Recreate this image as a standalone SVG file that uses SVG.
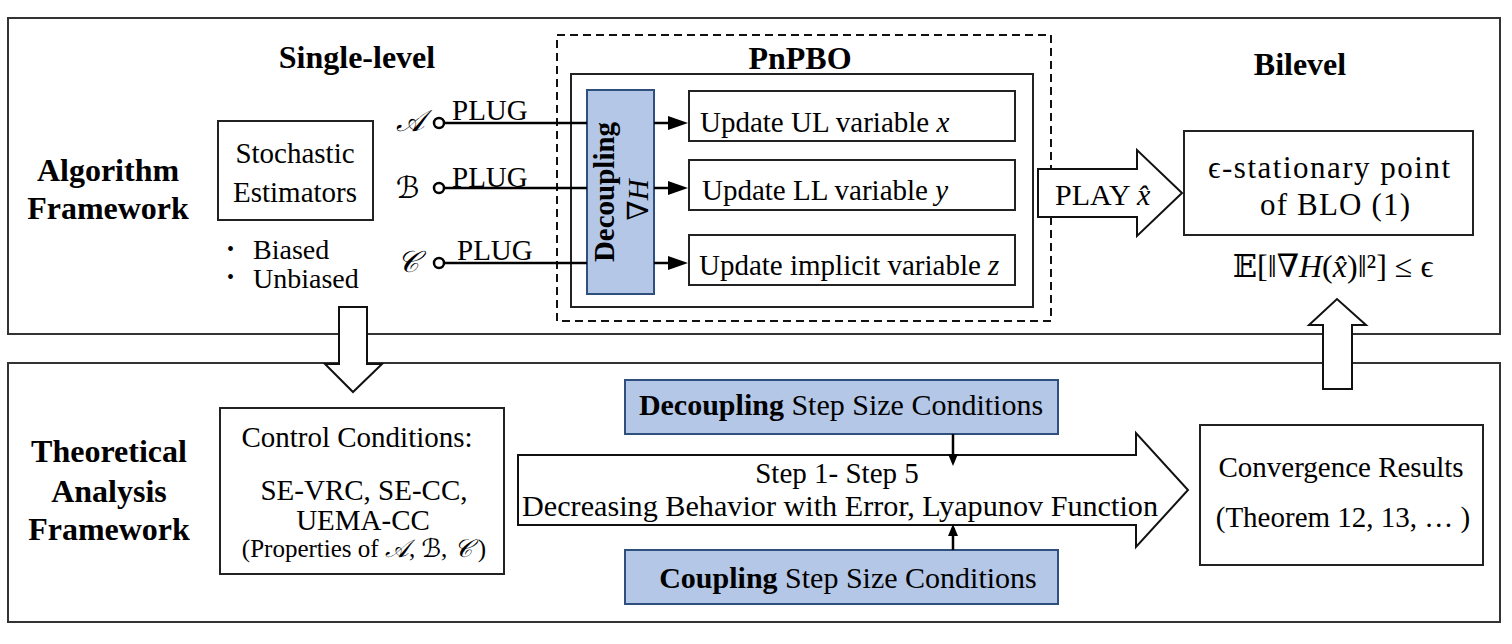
<svg xmlns="http://www.w3.org/2000/svg" width="1512" height="644" viewBox="0 0 1512 644">
<defs>
<style>
text { font-family: "Liberation Serif", "Times New Roman", "DejaVu Serif", "DejaVu Sans", serif; fill:#000; }
.b { font-weight: bold; font-size: 32px; }
.r { font-size: 29px; }
.r30 { font-size: 30px; }
.i { font-style: italic; }
.panel { fill:#fff; stroke:#333; stroke-width:2; }
.box { fill:#fff; stroke:#222; stroke-width:2; }
.blue { fill:#b4c7e7; stroke:#2f4f7f; stroke-width:2; }
.barrow { fill:#fff; stroke:#111; stroke-width:2; stroke-linejoin:miter; }
.line { stroke:#000; stroke-width:2.5; fill:none; }
.dash { fill:none; stroke:#111; stroke-width:2; stroke-dasharray:8 5; }
</style>
<marker id="ah" viewBox="0 0 20 14" refX="12" refY="7" markerWidth="20" markerHeight="14" orient="auto" markerUnits="userSpaceOnUse">
<path d="M0,0 L20,7 L0,14 Z" fill="#000"/>
</marker>
<marker id="ahs" viewBox="0 0 12 10" refX="8" refY="5" markerWidth="12" markerHeight="10" orient="auto" markerUnits="userSpaceOnUse">
<path d="M0,0 L12,5 L0,10 Z" fill="#000"/>
</marker>
</defs>

<g id="panels">
<rect class="panel" x="8" y="18" width="1492" height="316"/>
<rect class="panel" x="8" y="363" width="1492" height="259"/>
</g>

<g id="labels">
<text class="b" x="108" y="181" text-anchor="middle">Algorithm</text>
<text class="b" x="108" y="219" text-anchor="middle">Framework</text>
<text class="b" x="357" y="68" text-anchor="middle">Single-level</text>
<text class="b" x="1300" y="75" text-anchor="middle">Bilevel</text>
<text class="b" x="109" y="462" text-anchor="middle">Theoretical</text>
<text class="b" x="109" y="502" text-anchor="middle">Analysis</text>
<text class="b" x="109" y="540" text-anchor="middle">Framework</text>
</g>

<g id="pnpbo">
<rect class="dash" x="557" y="35" width="494" height="286"/>
<rect class="box" x="571" y="74" width="462" height="233" fill="none"/>
<text class="b" x="800" y="69" text-anchor="middle">PnPBO</text>
</g>

<g id="estimators">
<rect class="box" x="218" y="121" width="155" height="99"/>
<text class="r" x="295" y="163" text-anchor="middle">Stochastic</text>
<text class="r" x="295" y="202" text-anchor="middle">Estimators</text>
<text x="227" y="256" font-size="20">•</text>
<text x="253" y="259" font-size="28">Biased</text>
<text x="227" y="284" font-size="20">•</text>
<text x="253" y="288" font-size="28">Unbiased</text>
</g>

<g id="plugs">
<text class="r30 i" x="396" y="131">𝒜</text>
<text class="r30 i" x="396" y="198">ℬ</text>
<text class="r30 i" x="397" y="272">𝒞</text>
<text class="r" x="452" y="120">PLUG</text>
<text class="r" x="452" y="187">PLUG</text>
<text class="r" x="457" y="260">PLUG</text>
</g>

<g id="decoupling">
<rect class="blue" x="587" y="90" width="67" height="204"/>
<text transform="translate(614,192) rotate(-90)" text-anchor="middle" font-size="29" font-weight="bold">Decoupling</text>
<text transform="translate(648,200) rotate(-90)" text-anchor="middle" font-size="29">∇<tspan class="i">H</tspan></text>
</g>

<g id="update-x">
<rect class="box" x="689" y="91" width="326" height="50"/>
<text class="r" x="700" y="132">Update UL variable <tspan class="i">x</tspan></text>
</g>
<g id="update-y">
<rect class="box" x="689" y="160" width="326" height="50"/>
<text class="r" x="702" y="200">Update LL variable <tspan class="i">y</tspan></text>
</g>
<g id="update-z">
<rect class="box" x="689" y="235" width="326" height="50"/>
<text class="r" x="699" y="275">Update implicit variable <tspan class="i">z</tspan></text>
</g>

<g id="play">
<path class="barrow" d="M1038,169 L1137,169 L1137,150 L1182,193 L1137,236 L1137,217 L1038,217 Z"/>
<text class="r30" x="1055" y="205">PLAY <tspan class="i">x̂</tspan></text>
</g>

<g id="stationary">
<rect class="box" x="1184" y="131" width="289" height="104"/>
<text x="1208" y="178" font-size="31" textLength="242" lengthAdjust="spacing">ϵ-stationary point</text>
<text x="1260" y="215" font-size="31" textLength="150" lengthAdjust="spacing">of BLO (1)</text>
<text x="1333" y="277" font-size="32" text-anchor="middle">𝔼[‖∇<tspan class="i">H</tspan>(<tspan class="i">x̂</tspan>)‖²] ≤ ϵ</text>
</g>

<g id="control">
<rect class="box" x="220" y="408" width="284" height="166"/>
<text class="r" x="357" y="447" text-anchor="middle">Control Conditions:</text>
<text class="r" x="364" y="500" text-anchor="middle">SE-VRC, SE-CC,</text>
<text class="r" x="363" y="530" text-anchor="middle">UEMA-CC</text>
<text x="364" y="557" text-anchor="middle" font-size="25">(Properties of  <tspan class="i">𝒜</tspan>, <tspan class="i">ℬ</tspan>, <tspan class="i">𝒞</tspan> )</text>
</g>

<g id="steps">
<path class="barrow" d="M518,455 L1136,455 L1136,433 L1188,490 L1136,547 L1136,525 L518,525 Z"/>
<text x="837" y="483" font-size="29" text-anchor="middle">Step 1- Step 5</text>
<text x="840" y="516" font-size="29" text-anchor="middle" textLength="636" lengthAdjust="spacingAndGlyphs">Decreasing Behavior with Error, Lyapunov Function</text>
</g>

<g id="decoupling-step">
<rect class="blue" x="625" y="380" width="433" height="54"/>
<text class="r30" x="841" y="415" text-anchor="middle"><tspan font-weight="bold">Decoupling</tspan> Step Size Conditions</text>
</g>

<g id="coupling-step">
<rect class="blue" x="625" y="550" width="433" height="54"/>
<text class="r30" x="848" y="588" text-anchor="middle"><tspan font-weight="bold">Coupling</tspan> Step Size Conditions</text>
</g>

<g id="convergence">
<rect class="box" x="1200" y="425" width="283" height="140"/>
<text class="r" x="1341" y="477" text-anchor="middle">Convergence Results</text>
<text class="r" x="1343" y="527" text-anchor="middle">(Theorem 12, 13, … )</text>
</g>

<g id="connectors">
<circle cx="439" cy="123" r="5" fill="#fff" stroke="#000" stroke-width="2.5"/>
<circle cx="439" cy="188" r="5" fill="#fff" stroke="#000" stroke-width="2.5"/>
<circle cx="439" cy="263" r="5" fill="#fff" stroke="#000" stroke-width="2.5"/>
<line class="line" x1="444" y1="123" x2="587" y2="123"/>
<line class="line" x1="444" y1="188" x2="587" y2="188"/>
<line class="line" x1="444" y1="263" x2="587" y2="263"/>
<line class="line" x1="654" y1="123" x2="680" y2="123" marker-end="url(#ah)"/>
<line class="line" x1="654" y1="188" x2="680" y2="188" marker-end="url(#ah)"/>
<line class="line" x1="654" y1="263" x2="680" y2="263" marker-end="url(#ah)"/>
<line class="line" x1="953" y1="434" x2="953" y2="462" marker-end="url(#ahs)"/>
<line class="line" x1="953" y1="550" x2="953" y2="528" marker-end="url(#ahs)"/>
<path class="barrow" d="M339,307 L367,307 L367,364 L382,364 L353,392 L325,364 L339,364 Z"/>
<path class="barrow" d="M1323,389 L1352,389 L1352,325 L1366,325 L1337,299 L1309,325 L1323,325 Z"/>
</g>
</svg>
